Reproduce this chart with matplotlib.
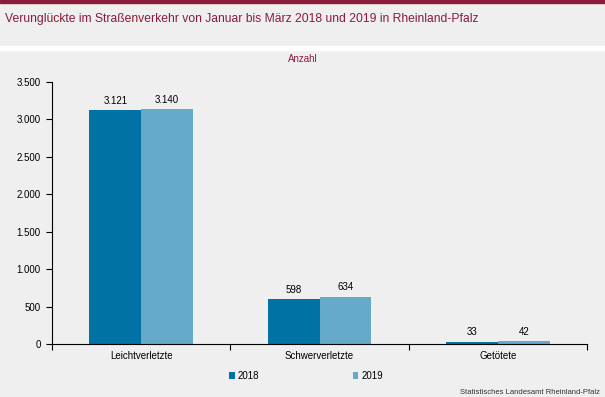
import matplotlib
matplotlib.use("Agg")
import matplotlib.pyplot as plt
import numpy as np
from matplotlib.patches import Rectangle

categories = ["Leichtverletzte", "Schwerverletzte", "Getötete"]
series_names = ["2018", "2019"]
values_2018 = [3121, 598, 33]
values_2019 = [3140, 634, 42]
y_ticks = [0, 500, 1000, 1500, 2000, 2500, 3000, 3500]

BG = "#eeefee"
DARK_RED = "#8b1c3b"
C2018 = "#0072a3"
C2019 = "#66aac9"

plt.rcParams["font.family"] = ["Liberation Sans", "DejaVu Sans"]


def fmt(v):
    return "{:,}".format(v).replace(",", ".")


fig = plt.figure(figsize=(6.05, 3.97), dpi=100, facecolor=BG)
W, H = 605, 397

# top stripe and white separator
fig.patches.append(Rectangle((0, 1 - 3 / H), 1, 3 / H, transform=fig.transFigure,
                             color=DARK_RED, zorder=0))
fig.patches.append(Rectangle((0, 1 - 50 / H), 1, 4 / H, transform=fig.transFigure,
                             color="white", zorder=0))

fig.text(5 / W, 1 - 19 / H, "Verunglückte im Straßenverkehr von Januar bis März 2018 und 2019 in Rheinland-Pfalz",
         color=DARK_RED, fontsize=8.7, ha="left", va="center")
fig.text(303 / W, 1 - 59 / H, "Anzahl", color=DARK_RED, fontsize=7,
         ha="center", va="center")

ax = fig.add_axes([52 / W, 53 / H, (587 - 52) / W, (344 - 82) / H])
ax.set_facecolor(BG)

x = np.arange(len(categories))
w = 0.29
b1 = ax.bar(x - w / 2, values_2018, w, color=C2018, label=series_names[0])
b2 = ax.bar(x + w / 2, values_2019, w, color=C2019, label=series_names[1])
for bars in (b1, b2):
    for rect in bars:
        v = int(rect.get_height())
        ax.annotate(fmt(v), (rect.get_x() + rect.get_width() / 2, v),
                    xytext=(0, 3), textcoords="offset points",
                    ha="center", va="bottom", fontsize=7)

ax.set_xlim(-0.5, len(categories) - 0.5)
ax.set_ylim(0, 3500)
ax.set_yticks(y_ticks)
ax.set_yticklabels([fmt(v) for v in y_ticks], fontsize=7)
ax.set_xticks(np.arange(len(categories) + 1) - 0.5)
ax.set_xticklabels([])
ax.set_xticks(x, minor=True)
ax.set_xticklabels(categories, minor=True, fontsize=7)
ax.tick_params(axis="x", which="minor", length=0, pad=5)
ax.tick_params(axis="x", which="major", length=4, width=0.8, direction="out")
ax.tick_params(axis="y", length=4, width=0.8, direction="out", pad=4)
for s in ("top", "right"):
    ax.spines[s].set_visible(False)
for s in ("left", "bottom"):
    ax.spines[s].set_linewidth(0.8)

fig.legend(handles=[b1, b2], labels=series_names, loc="center",
           bbox_to_anchor=(306 / W, 1 - 376 / H), ncol=2, frameon=False,
           fontsize=7, handlelength=0.6, handleheight=0.6, handletextpad=0.3,
           columnspacing=9.6)

fig.text(600 / W, 1 - 392 / H, "Statistisches Landesamt Rheinland-Pfalz",
         fontsize=5.5, color="#333333", ha="right", va="center")

fig.savefig("out.png", dpi=100, facecolor=BG)
